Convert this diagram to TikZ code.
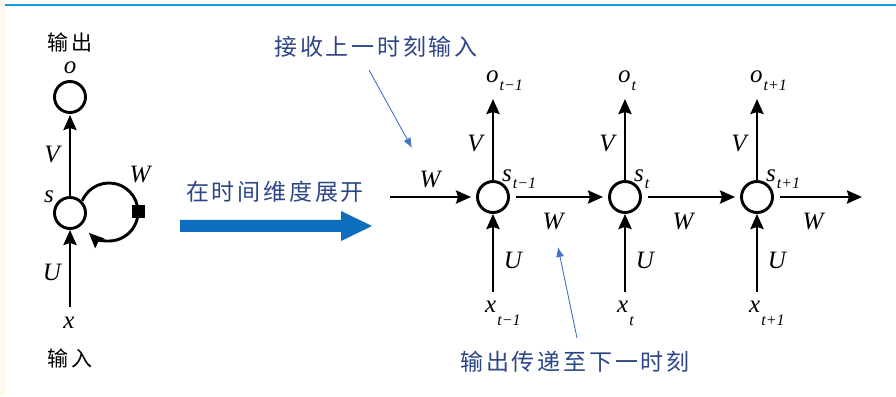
\documentclass[tikz,border=0pt]{standalone}
\usepackage{fontspec}
\newfontfamily\cjk[LetterSpace=12]{Noto Sans CJK SC}
\newfontfamily\labfont{Liberation Serif}
\usetikzlibrary{arrows.meta,calc}
\definecolor{topblue}{RGB}{20,155,225}
\definecolor{bigblue}{RGB}{14,110,190}
\definecolor{notetext}{RGB}{45,70,135}
\definecolor{notearrow}{RGB}{70,115,200}
\definecolor{cream}{RGB}{255,250,236}
\newcommand\lsub[2]{\kern1pt\lower#1\hbox{\fontsize{16}{16}\selectfont #2}}
\begin{document}
\begin{tikzpicture}[x=1pt,y=1pt,
  unit/.style={circle, draw, line width=2.9pt, minimum size=31pt, inner sep=0pt},
  wire/.style={line width=2.9pt, -{Stealth[length=15pt,width=13pt,inset=2pt]}},
  lab/.style={inner sep=0pt, font=\labfont\itshape\fontsize{25}{28}\selectfont},
  cjkblack/.style={font=\cjk\fontsize{21}{24}\selectfont, inner sep=0pt},
  note/.style={font=\cjk\fontsize{23}{26}\selectfont, text=notetext, inner sep=0pt},
  notearr/.style={draw=notearrow, line width=0.9pt, -{Latex[length=10pt,width=8pt]}}]
\useasboundingbox (0,0) rectangle (896,396);
\fill[white] (0,0) rectangle (896,396);
\fill[cream] (0,0) rectangle (5,396);
\draw[topblue, line width=2.5pt] (5,391) -- (896,391);

% left folded RNN
\node[unit] (o) at (70,299) {};
\node[unit] (s) at (70,183) {};
\node[cjkblack] (outl) at (70,354) {输出};
\node[lab] (olab) at (70,328) {o};
\node[lab] (xlab) at (69,73) {x};
\node[cjkblack] (inl) at (70,38) {输入};
\coordinate (xin) at (70,89);
\draw[wire, shorten >=1pt] (s.north) -- (o.south);
\draw[wire] (xin) -- (s.south);
\node[lab] (vl) at (52,241) {V};
\node[lab] (ul) at (52,124) {U};
\node[lab] (sl) at (49,199) {s};
\node[lab] (wl) at (140,221) {W};
\draw[wire] ($(s)+(39,1)+(157:29)$) arc[start angle=157,end angle=-134,radius=29];
\node[fill=black, minimum size=13pt, inner sep=0pt] (sq) at ($(s)+(68,1)$) {};

% unfold arrow
\fill[bigblue] (180,164) -- (341,164) -- (341,155) -- (372,170) -- (341,185) -- (341,176) -- (180,176) -- cycle;
\node[note] (unfold) at (275,204) {在时间维度展开};

% unrolled chain
\foreach \i/\cx/\tsub in {1/493/t−1,2/625/t,3/757/t+1}{
  \node[unit] (s\i) at (\cx,199) {};
  \coordinate (otip\i) at (\cx,297);
  \coordinate (xbot\i) at (\cx,104);
  \draw[wire] (s\i.north) -- (otip\i);
  \draw[wire] (xbot\i) -- (s\i.south);
  \node[lab, anchor=base west] (ol\i) at (\cx-7,313) {o\lsub{8pt}{\tsub}};
  \node[lab, anchor=base west] (sl\i) at (\cx+9,214) {s\lsub{7pt}{\tsub}};
  \node[lab, anchor=base west] (xl\i) at (\cx-8,83) {x\lsub{13pt}{\tsub}};
  \node[lab] (vl\i) at (\cx-18,252) {V};
  \node[lab] (ul\i) at (\cx+20,136) {U};
}
\coordinate (win) at (390,199);
\coordinate (wout) at (862,199);
\draw[wire, shorten >=5pt] (win) -- (s1.west);
\draw[wire, shorten <=6pt, shorten >=5pt] (s1.east) -- (s2.west);
\draw[wire, shorten <=6pt, shorten >=5pt] (s2.east) -- (s3.west);
\draw[wire, shorten <=6pt] (s3.east) -- (wout);
\node[lab] (w0) at (430,216) {W};
\node[lab] (w1) at (553,174) {W};
\node[lab] (w2) at (683,174) {W};
\node[lab] (w3) at (813,174) {W};

% annotations
\node[note] (n1) at (376,349) {接收上一时刻输入};
\coordinate (n1s) at (369,326);
\coordinate (n1e) at (412,248);
\draw[notearr] (n1s) -- (n1e);
\node[note] (n2) at (575,34) {输出传递至下一时刻};
\coordinate (n2s) at (577,58);
\coordinate (n2e) at (558,149);
\draw[notearr] (n2s) -- (n2e);
\end{tikzpicture}
\end{document}
